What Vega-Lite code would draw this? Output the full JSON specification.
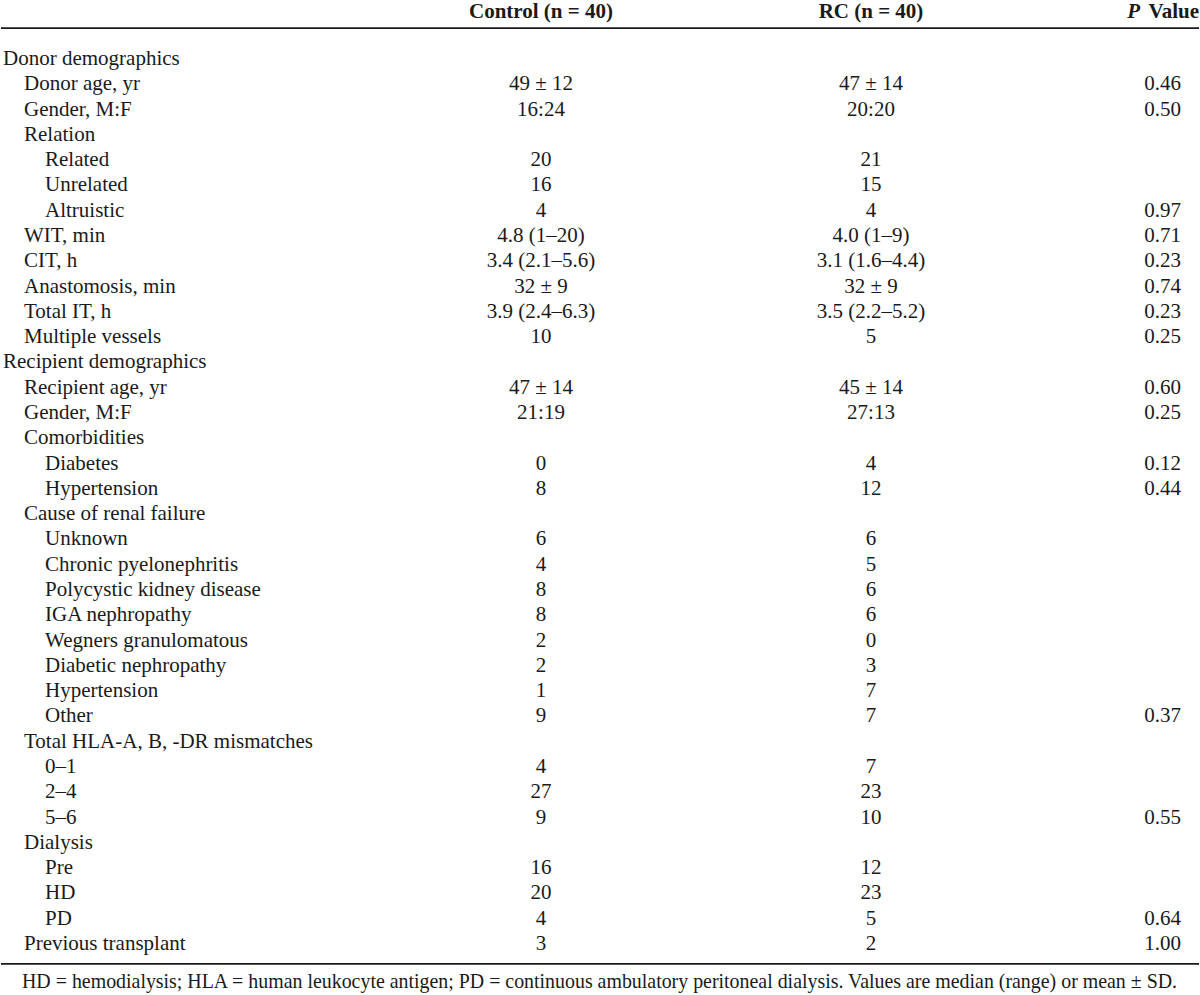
{
  "$schema": "https://vega.github.io/schema/vega-lite/v6.json",
  "width": 1200,
  "height": 995,
  "autosize": {"type": "fit", "contains": "padding"},
  "padding": 0,
  "background": "white",
  "config": {
    "view": {"stroke": null},
    "text": {"font": "Liberation Serif", "fontSize": 21, "color": "#1a1a1a", "baseline": "alphabetic"}
  },
  "datasets": {
    "body": [
      {"row": 1, "label": "Donor demographics", "indent": 0},
      {"row": 2, "label": "Donor age, yr", "indent": 1, "control": "49 ± 12", "rc": "47 ± 14", "p": "0.46"},
      {"row": 3, "label": "Gender, M:F", "indent": 1, "control": "16:24", "rc": "20:20", "p": "0.50"},
      {"row": 4, "label": "Relation", "indent": 1},
      {"row": 5, "label": "Related", "indent": 2, "control": "20", "rc": "21"},
      {"row": 6, "label": "Unrelated", "indent": 2, "control": "16", "rc": "15"},
      {"row": 7, "label": "Altruistic", "indent": 2, "control": "4", "rc": "4", "p": "0.97"},
      {"row": 8, "label": "WIT, min", "indent": 1, "control": "4.8 (1–20)", "rc": "4.0 (1–9)", "p": "0.71"},
      {"row": 9, "label": "CIT, h", "indent": 1, "control": "3.4 (2.1–5.6)", "rc": "3.1 (1.6–4.4)", "p": "0.23"},
      {"row": 10, "label": "Anastomosis, min", "indent": 1, "control": "32 ± 9", "rc": "32 ± 9", "p": "0.74"},
      {"row": 11, "label": "Total IT, h", "indent": 1, "control": "3.9 (2.4–6.3)", "rc": "3.5 (2.2–5.2)", "p": "0.23"},
      {"row": 12, "label": "Multiple vessels", "indent": 1, "control": "10", "rc": "5", "p": "0.25"},
      {"row": 13, "label": "Recipient demographics", "indent": 0},
      {"row": 14, "label": "Recipient age, yr", "indent": 1, "control": "47 ± 14", "rc": "45 ± 14", "p": "0.60"},
      {"row": 15, "label": "Gender, M:F", "indent": 1, "control": "21:19", "rc": "27:13", "p": "0.25"},
      {"row": 16, "label": "Comorbidities", "indent": 1},
      {"row": 17, "label": "Diabetes", "indent": 2, "control": "0", "rc": "4", "p": "0.12"},
      {"row": 18, "label": "Hypertension", "indent": 2, "control": "8", "rc": "12", "p": "0.44"},
      {"row": 19, "label": "Cause of renal failure", "indent": 1},
      {"row": 20, "label": "Unknown", "indent": 2, "control": "6", "rc": "6"},
      {"row": 21, "label": "Chronic pyelonephritis", "indent": 2, "control": "4", "rc": "5"},
      {"row": 22, "label": "Polycystic kidney disease", "indent": 2, "control": "8", "rc": "6"},
      {"row": 23, "label": "IGA nephropathy", "indent": 2, "control": "8", "rc": "6"},
      {"row": 24, "label": "Wegners granulomatous", "indent": 2, "control": "2", "rc": "0"},
      {"row": 25, "label": "Diabetic nephropathy", "indent": 2, "control": "2", "rc": "3"},
      {"row": 26, "label": "Hypertension", "indent": 2, "control": "1", "rc": "7"},
      {"row": 27, "label": "Other", "indent": 2, "control": "9", "rc": "7", "p": "0.37"},
      {"row": 28, "label": "Total HLA-A, B, -DR mismatches", "indent": 1},
      {"row": 29, "label": "0–1", "indent": 2, "control": "4", "rc": "7"},
      {"row": 30, "label": "2–4", "indent": 2, "control": "27", "rc": "23"},
      {"row": 31, "label": "5–6", "indent": 2, "control": "9", "rc": "10", "p": "0.55"},
      {"row": 32, "label": "Dialysis", "indent": 1},
      {"row": 33, "label": "Pre", "indent": 2, "control": "16", "rc": "12"},
      {"row": 34, "label": "HD", "indent": 2, "control": "20", "rc": "23"},
      {"row": 35, "label": "PD", "indent": 2, "control": "4", "rc": "5", "p": "0.64"},
      {"row": 36, "label": "Previous transplant", "indent": 1, "control": "3", "rc": "2", "p": "1.00"}
    ],
    "footnote": [
      {"row": 37.5, "label": "HD = hemodialysis; HLA = human leukocyte antigen; PD = continuous ambulatory peritoneal dialysis. Values are median (range) or mean ± SD.", "indent": 1}
    ],
    "header": [
      {"row": -0.86, "control": "Control (n = 40)", "rc": "RC (n = 40)", "p": "Value", "pitalic": "P"}
    ],
    "rules": [
      {"row": -0.46},
      {"row": 36.55}
    ]
  },
  "encoding": {
    "y": {"field": "row", "type": "quantitative", "scale": {"domain": [1, 36], "range": [62, 947], "nice": false, "zero": false}, "axis": null}
  },
  "layer": [
    {
      "data": {"name": "rules"},
      "mark": {"type": "rule", "strokeWidth": 1.6, "color": "#1a1a1a"},
      "encoding": {}
    },
    {
      "data": {"name": "body"},
      "mark": {"type": "text", "align": "left"},
      "encoding": {
        "x": {"field": "indent", "type": "quantitative", "scale": {"domain": [0, 2], "range": [2, 44], "nice": false, "zero": false}, "axis": null},
        "text": {"field": "label"}
      }
    },
    {
      "data": {"name": "footnote"},
      "mark": {"type": "text", "align": "left", "fontSize": 19.9},
      "encoding": {
        "x": {"field": "indent", "type": "quantitative", "scale": {"domain": [0, 2], "range": [0, 42], "nice": false, "zero": false}, "axis": null},
        "text": {"field": "label"}
      }
    },
    {
      "data": {"name": "body"},
      "transform": [
        {"fold": ["control", "rc"], "as": ["key", "val"]},
        {"filter": "isValid(datum.val)"}
      ],
      "mark": {"type": "text", "align": "center"},
      "encoding": {
        "x": {"field": "key", "type": "nominal", "scale": {"type": "point", "domain": ["control", "rc"], "range": [540, 870], "padding": 0}, "axis": null},
        "text": {"field": "val"}
      }
    },
    {
      "data": {"name": "body"},
      "transform": [
        {"fold": ["p"], "as": ["key", "val"]},
        {"filter": "isValid(datum.val)"}
      ],
      "mark": {"type": "text", "align": "right"},
      "encoding": {
        "x": {"field": "key", "type": "nominal", "scale": {"type": "point", "domain": ["p"], "range": [1170, 1190], "padding": 0}, "axis": null},
        "text": {"field": "val"}
      }
    },
    {
      "data": {"name": "header"},
      "transform": [
        {"fold": ["control", "rc"], "as": ["key", "val"]}
      ],
      "mark": {"type": "text", "align": "center", "fontWeight": "bold"},
      "encoding": {
        "x": {"field": "key", "type": "nominal", "scale": {"type": "point", "domain": ["control", "rc"], "range": [540, 870], "padding": 0}, "axis": null},
        "text": {"field": "val"}
      }
    },
    {
      "data": {"name": "header"},
      "transform": [
        {"fold": ["p"], "as": ["key", "val"]}
      ],
      "mark": {"type": "text", "align": "right", "fontWeight": "bold", "dx": 18},
      "encoding": {
        "x": {"field": "key", "type": "nominal", "scale": {"type": "point", "domain": ["p"], "range": [1170, 1190], "padding": 0}, "axis": null},
        "text": {"field": "val"}
      }
    },
    {
      "data": {"name": "header"},
      "transform": [
        {"fold": ["p"], "as": ["key", "val"]}
      ],
      "mark": {"type": "text", "align": "right", "fontWeight": "bold", "fontStyle": "italic", "dx": -41},
      "encoding": {
        "x": {"field": "key", "type": "nominal", "scale": {"type": "point", "domain": ["p"], "range": [1170, 1190], "padding": 0}, "axis": null},
        "text": {"field": "pitalic"}
      }
    }
  ],
  "resolve": {"scale": {"x": "independent"}}
}
